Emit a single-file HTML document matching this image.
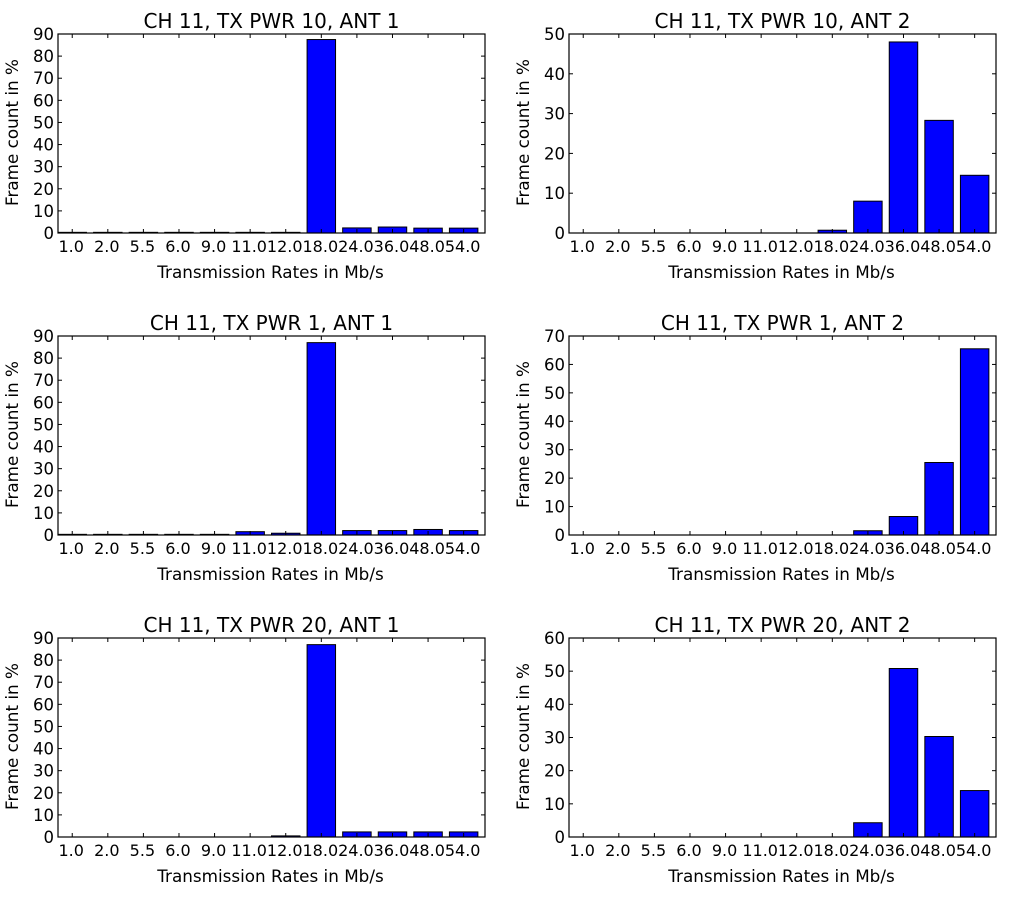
<!DOCTYPE html>
<html><head><meta charset="utf-8"><style>
body{margin:0;background:#fff}
svg text{font-family:"DejaVu Sans","Liberation Sans",sans-serif;fill:#000}
</style></head><body>
<svg id="fig" width="1010" height="898" xmlns="http://www.w3.org/2000/svg"></svg>
<script>
const categories = ["1.0","2.0","5.5","6.0","9.0","11.0","12.0","18.0","24.0","36.0","48.0","54.0"];
const titles = ["CH 11, TX PWR 10, ANT 1","CH 11, TX PWR 10, ANT 2","CH 11, TX PWR 1, ANT 1","CH 11, TX PWR 1, ANT 2","CH 11, TX PWR 20, ANT 1","CH 11, TX PWR 20, ANT 2"];
const series1 = [0.3,0.3,0.3,0.3,0.3,0.3,0.3,87.5,2.3,2.7,2.2,2.2];
const series2 = [0,0,0,0,0,0,0,0.7,8,48,28.3,14.5];
const series3 = [0.3,0.3,0.3,0.3,0.3,1.5,0.8,87,2,2,2.5,2];
const series4 = [0,0,0,0,0,0,0,0,1.5,6.5,25.5,65.5];
const series5 = [0,0,0,0,0,0,0.5,87,2.3,2.3,2.3,2.3];
const series6 = [0,0,0,0,0,0,0,0,4.3,50.8,30.3,14];
const yMaxes = [90,50,90,70,90,60];
const allSeries = [series1,series2,series3,series4,series5,series6];
const NS="http://www.w3.org/2000/svg";
const svg=document.getElementById('fig');
function mk(tag,attrs,parent){const e=document.createElementNS(NS,tag);for(const k in attrs)e.setAttribute(k,attrs[k]);(parent||svg).appendChild(e);return e;}
const lefts=[58,569], tops=[34,336,638], W=427, H=199;
for(let p=0;p<6;p++){
  const L=lefts[p%2], T=tops[Math.floor(p/2)], ymax=yMaxes[p], data=allSeries[p];
  const g=mk('g',{});
  
  
  const x=v=>L+v/categories.length*W;
  const y=v=>T+H-v/ymax*H;
  data.forEach((v,i)=>{
    const r=mk('rect',{x:x(i),y:y(v),width:x(0.8)-x(0),height:Math.max(y(0)-y(v),0),fill:'#0000ff',stroke:'#000','stroke-width':1},g);
    
    
  });
  categories.forEach((c,i)=>{
    const cx=x(i+0.4);
    mk('line',{x1:cx,x2:cx,y1:T+H,y2:T+H-4,stroke:'#000'},g);
    mk('line',{x1:cx,x2:cx,y1:T,y2:T+4,stroke:'#000'},g);
    const t=mk('text',{x:cx-1,y:T+H+19,'text-anchor':'middle','font-size':16},g);
    t.textContent=c;
    
    
  });
  for(let v=0;v<=ymax;v+=10){
    const yy=y(v);
    mk('line',{x1:L,x2:L+4,y1:yy,y2:yy,stroke:'#000'},g);
    mk('line',{x1:L+W,x2:L+W-4,y1:yy,y2:yy,stroke:'#000'},g);
    const t=mk('text',{x:L-4,y:yy+6,'text-anchor':'end','font-size':16.5},g);
    t.textContent=v;
    
    
  }
  const fr=mk('rect',{x:L,y:T,width:W,height:H,fill:'none',stroke:'#000','stroke-width':1.2},g);
  
  
  const tt=mk('text',{x:L+W/2,y:T-6,'text-anchor':'middle','font-size':20},g);
  tt.textContent=titles[p];
  
  
  const xl=mk('text',{x:L+W/2-1,y:T+H+45,'text-anchor':'middle','font-size':16.8},g);
  xl.textContent='Transmission Rates in Mb/s';
  
  
  const yl=mk('text',{x:0,y:0,'text-anchor':'middle','font-size':16.8,transform:`translate(${L-40},${T+H/2-1}) rotate(-90)`},g);
  yl.textContent='Frame count in %';
  
  
}
</script>
</body></html>
